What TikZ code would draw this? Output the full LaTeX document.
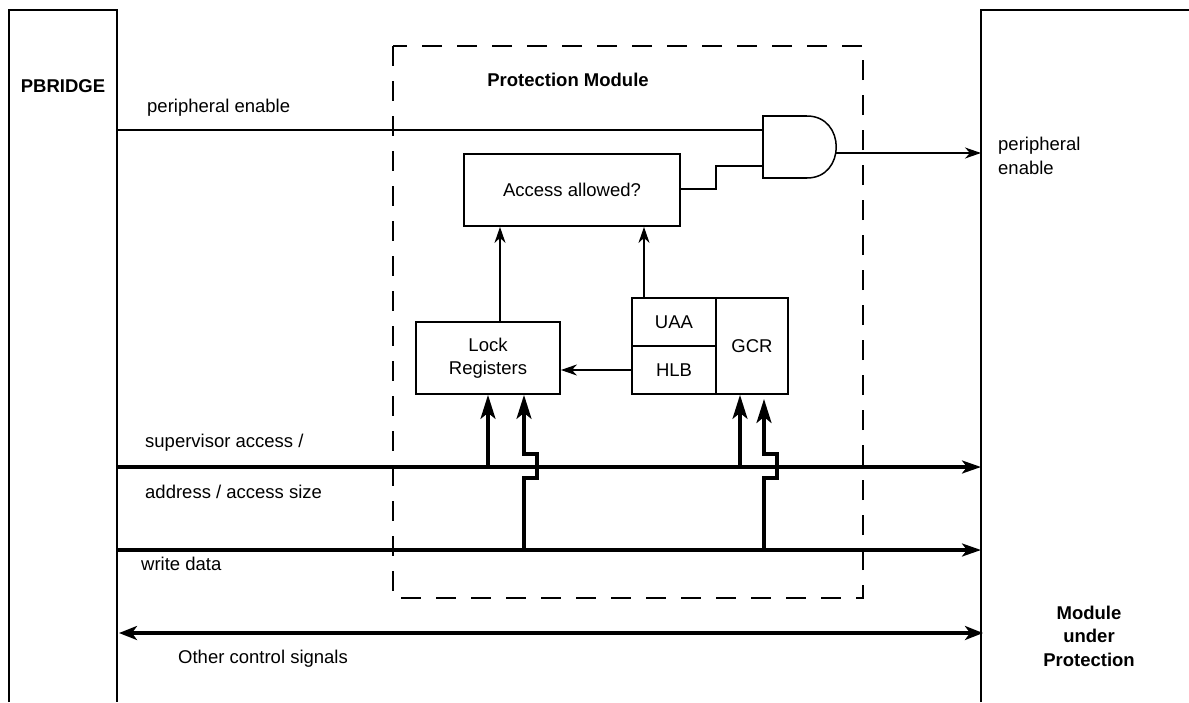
\documentclass[tikz,border=0pt]{standalone}
\usepackage{fontspec}
\setmainfont{Liberation Sans}
\usetikzlibrary{arrows.meta}
\begin{document}
\begin{tikzpicture}[x=1pt,y=-1pt,
  font=\fontsize{18.5}{23.5}\selectfont,
  thinline/.style={line width=1.6pt},
  boxline/.style={line width=1.8pt},
  busline/.style={line width=3.2pt},
  regbox/.style={draw,line width=1.8pt,rectangle,inner sep=0pt,align=center},
  lbl/.style={inner sep=0pt,align=center},
  thinarrow/.style={thinline,-{Stealth[length=16pt,width=11pt,inset=5pt]}},
  busarrow/.style={busline,-{Stealth[length=19pt,width=13pt,inset=5pt]}},
  uparrow/.style={busline,-{Stealth[length=24pt,width=15pt,inset=6pt]}},
  dashbox/.style={line width=2.8pt,dash pattern=on 20pt off 15pt}]
\useasboundingbox (0,0) rectangle (1189,702);
% outer blocks
\draw[boxline] (9,702) -- (9,10) -- (117,10) -- (117,702);
\draw[boxline] (981,702) -- (981,10) -- (1189,10);
\node[lbl,font=\fontsize{18.5}{23.5}\selectfont\bfseries] (pb) at (63,86) {PBRIDGE};
\node[lbl,font=\fontsize{18.5}{23.5}\selectfont\bfseries] (mup) at (1089,636) {Module\\under\\Protection};
% protection module
\draw[dashbox] (393,46) rectangle (863,598);
\node[lbl,font=\fontsize{18.5}{23.5}\selectfont\bfseries] (pm) at (568,80) {Protection Module};
% boxes
\node[regbox,minimum width=216pt,minimum height=72pt] (acc) at (572,190) {Access allowed?};
\node[regbox,minimum width=144pt,minimum height=72pt] (lock) at (488,358) {Lock\\Registers};
\node[regbox,minimum width=84pt,minimum height=48pt] (uaa) at (674,322) {UAA};
\node[regbox,minimum width=84pt,minimum height=48pt] (hlb) at (674,370) {HLB};
\node[regbox,minimum width=72pt,minimum height=96pt] (gcr) at (752,346) {GCR};
% AND gate
\coordinate (g1) at (763,130);
\coordinate (g2) at (763,166);
\coordinate (gout) at (836,153);
\draw[line width=1.5pt] (807,116) .. controls (846,116) and (846,178) .. (807,178);
\draw[line width=2.6pt] (807,116) -- (763,116) -- (763,178) -- (807,178);
% peripheral enable
\coordinate (pe0) at (117,130);
\coordinate (pe1) at (981,153);
\draw[thinline] (pe0) -- (g1);
\draw[thinline] (acc.east |- 0,189) -- (716,189) -- (716,166) -- (g2);
\draw[thinarrow] (gout) -- (pe1);
\node[lbl,anchor=west] (pel) at (147,108) {peripheral enable};
\node[lbl,anchor=west,align=left] (per) at (998,156) {peripheral\\enable};
% internal arrows
\draw[thinarrow] (lock.north -| 500,0) -- (acc.south -| 500,0);
\draw[thinarrow] (uaa.north -| 644,0) -- (acc.south -| 644,0);
\draw[thinarrow] (hlb.west) -- (lock.east |- hlb.west);
% buses
\coordinate (sa0) at (117,467);
\coordinate (sa1) at (981,467);
\coordinate (wd0) at (117,550);
\coordinate (wd1) at (981,550);
\draw[busarrow] (sa0) -- (sa1);
\draw[busarrow] (wd0) -- (wd1);
\node[lbl,anchor=west] (sal) at (145,443) {supervisor access /};
\node[lbl,anchor=west] (adl) at (145,492) {address / access size};
\node[lbl,anchor=west] (wdl) at (141,564) {write data};
% up arrows
\draw[uparrow] (488,467) -- (lock.south -| 488,0);
\draw[uparrow] (524,550) -- (524,478) -- (537,478) -- (537,454) -- (524,454) -- (lock.south -| 524,0);
\draw[uparrow] (740,467) -- (gcr.south -| 740,0);
\draw[uparrow] (764,550) -- (764,478) -- (777,478) -- (777,454) -- (764,454) -- (764,399);
% other control signals
\coordinate (oc0) at (119,633);
\coordinate (oc1) at (983,633);
\draw[busline,{Stealth[length=18pt,width=14pt,inset=5pt]}-{Stealth[length=18pt,width=14pt,inset=5pt]}] (oc0) -- (oc1);
\node[lbl,anchor=west] (ocl) at (178,659) {Other control signals};
\end{tikzpicture}
\end{document}
